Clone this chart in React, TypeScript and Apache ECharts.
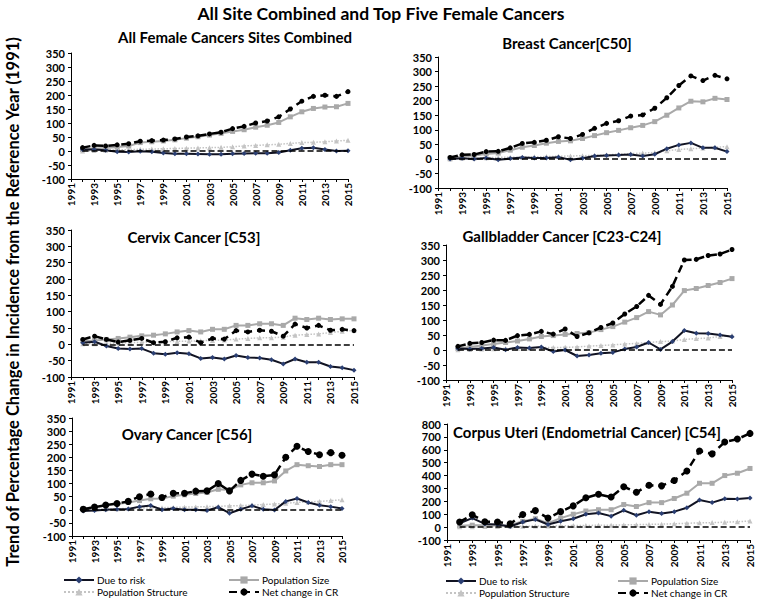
import React, { useEffect, useRef } from 'react';
import * as echarts from 'echarts';

const years = [
  '1991', '1992', '1993', '1994', '1995', '1996', '1997', '1998', '1999', '2000',
  '2001', '2002', '2003', '2004', '2005', '2006', '2007', '2008', '2009', '2010',
  '2011', '2012', '2013', '2014', '2015',
];

// values for 1992..2015 (1991 is the reference year)
const allRisk = [5, 5, 3, -3, -4, -1, -3, -7, -10, -10, -11, -12, -12, -10, -9, -8, -8, -5, 3, 10, 12, 5, 0, 1];
const allSize = [5, 8, 11, 14, 18, 30, 33, 36, 40, 46, 51, 57, 63, 70, 76, 85, 92, 102, 122, 140, 152, 157, 158, 170];
const allStruct = [0, 2, 3, 4, 5, 6, 7, 8, 9, 10, 11, 12, 13, 15, 18, 20, 22, 24, 27, 30, 31, 33, 36, 38];
const allNet = [12, 20, 18, 22, 26, 35, 37, 39, 43, 50, 54, 61, 67, 80, 88, 100, 107, 122, 150, 178, 195, 199, 195, 212];

const breastRisk = [0, 2, 0, 3, -3, 1, 5, 3, 3, 6, -3, 2, 10, 12, 13, 15, 10, 16, 35, 48, 55, 38, 38, 25];
const breastSize = [2, 8, 12, 17, 20, 30, 40, 46, 54, 60, 62, 70, 80, 90, 98, 107, 115, 128, 150, 175, 198, 196, 208, 204];
const breastStruct = [0, 2, 3, 4, 5, 6, 6, 7, 8, 9, 10, 11, 12, 14, 16, 18, 20, 22, 28, 32, 35, 37, 40, 42];
const breastNet = [5, 14, 15, 25, 26, 38, 53, 57, 64, 76, 70, 84, 105, 122, 131, 147, 151, 174, 210, 252, 285, 269, 287, 275];

const cervixRisk = [5, 8, -5, -13, -14, -13, -27, -30, -26, -29, -43, -40, -45, -34, -40, -42, -47, -60, -45, -55, -55, -68, -72, -79];
const cervixSize = [10, 12, 15, 18, 22, 26, 28, 32, 38, 42, 38, 46, 46, 58, 58, 63, 63, 58, 80, 76, 80, 76, 78, 78];
const cervixStruct = [2, 2, 3, 4, 5, 6, 7, 8, 9, 10, 11, 12, 13, 16, 18, 20, 20, 22, 28, 30, 32, 36, 40, 42];
const cervixNet = [15, 25, 15, 7, 12, 18, 5, 8, 20, 22, 5, 18, 16, 42, 38, 43, 40, 25, 62, 50, 58, 43, 46, 42];

const gallRisk = [5, 3, 5, 8, 1, 8, 7, 10, -5, 0, -20, -17, -11, -8, 3, 10, 25, 2, 28, 65, 56, 55, 50, 44];
const gallSize = [5, 10, 15, 20, 25, 30, 37, 45, 48, 52, 55, 58, 68, 78, 93, 108, 128, 117, 150, 198, 205, 215, 225, 238];
const gallStruct = [1, 2, 3, 4, 5, 6, 7, 8, 8, 9, 10, 13, 15, 17, 20, 22, 25, 28, 30, 35, 38, 40, 45, 48];
const gallNet = [12, 22, 25, 33, 32, 48, 52, 62, 53, 70, 45, 57, 75, 90, 120, 145, 182, 152, 212, 300, 302, 315, 320, 335];

const ovaryRisk = [-5, -3, 0, 2, 3, 12, 16, 0, 5, 0, 0, -3, 10, -13, 2, 15, 2, -1, 32, 43, 28, 17, 12, 5];
const ovarySize = [5, 10, 15, 22, 28, 35, 42, 43, 52, 57, 62, 66, 78, 75, 95, 103, 103, 110, 148, 172, 168, 165, 172, 172];
const ovaryStruct = [2, 2, 3, 4, 5, 6, 7, 8, 9, 10, 11, 12, 13, 15, 16, 18, 20, 22, 25, 28, 30, 32, 35, 38];
const ovaryNet = [2, 10, 18, 24, 32, 50, 60, 47, 63, 63, 71, 72, 100, 72, 112, 136, 128, 133, 200, 242, 222, 210, 218, 208];

const uteriRisk = [30, 70, 25, 20, 5, 40, 60, 20, 45, 65, 100, 110, 85, 130, 92, 120, 105, 120, 150, 210, 190, 220, 218, 225];
const uteriSize = [10, 15, 15, 12, 15, 45, 65, 30, 70, 100, 125, 135, 135, 175, 160, 190, 190, 222, 263, 340, 340, 400, 418, 455];
const uteriStruct = [2, 3, 4, 5, 6, 7, 8, 9, 10, 12, 13, 14, 15, 17, 19, 21, 23, 26, 30, 33, 35, 38, 42, 47];
const uteriNet = [40, 95, 42, 40, 25, 98, 128, 70, 120, 165, 228, 255, 233, 313, 270, 325, 320, 362, 435, 590, 568, 660, 683, 727];

const seriesNames = ['Due to risk', 'Population Size', 'Population Structure', 'Net change in CR'];

const FONT = 'Lato, "Open Sans", sans-serif';

const panels = [
  { title: 'All Female Cancers Sites Combined', tx: 235, ty: 37, grid: { left: 71, top: 53, width: 277, height: 126 }, max: 350, interval: 50, dot: 5, data: [allRisk, allSize, allStruct, allNet] },
  { title: 'Breast Cancer[C50]', tx: 567, ty: 43, grid: { left: 438, top: 57, width: 289, height: 131 }, max: 350, interval: 50, dot: 5, data: [breastRisk, breastSize, breastStruct, breastNet] },
  { title: 'Cervix Cancer [C53]', tx: 194, ty: 237, grid: { left: 71, top: 230, width: 283, height: 147 }, max: 350, interval: 50, dot: 5, data: [cervixRisk, cervixSize, cervixStruct, cervixNet] },
  { title: 'Gallbladder Cancer [C23-C24]', tx: 562, ty: 236, grid: { left: 446, top: 245, width: 286, height: 135 }, max: 350, interval: 50, dot: 5, data: [gallRisk, gallSize, gallStruct, gallNet] },
  { title: 'Ovary Cancer [C56]', tx: 187, ty: 434, grid: { left: 72, top: 418, width: 270, height: 118 }, max: 350, interval: 50, dot: 7, data: [ovaryRisk, ovarySize, ovaryStruct, ovaryNet] },
  { title: 'Corpus Uteri (Endometrial Cancer) [C54]', tx: 587, ty: 432, grid: { left: 447, top: 424, width: 303, height: 116 }, max: 800, interval: 100, dot: 7, data: [uteriRisk, uteriSize, uteriStruct, uteriNet] },
];

const legendSpots = [
  { x: 63, y: 575 }, { x: 228, y: 575 }, { x: 63, y: 587 }, { x: 228, y: 587 },
  { x: 445, y: 576 }, { x: 617, y: 576 }, { x: 445, y: 588 }, { x: 617, y: 588 },
];

const App: React.FC = () => {
  const ref = useRef<HTMLDivElement>(null);

  useEffect(() => {
    if (!ref.current) return;
    const chart = echarts.init(ref.current, undefined, { renderer: 'svg' });

    const series: any[] = [];
    panels.forEach((p, i) => {
      const pts = (arr: number[]) => arr.map((v, k) => [years[k + 1], v]);
      series.push({
        name: seriesNames[0], type: 'line', xAxisIndex: i, yAxisIndex: i,
        data: pts(p.data[0]), symbol: 'diamond', symbolSize: 5,
        lineStyle: { color: '#111322', width: 2 },
        itemStyle: { color: '#2b3f73' },
        markLine: {
          silent: true, symbol: 'none', label: { show: false },
          lineStyle: { type: 'dashed', color: '#000', width: 1.5 },
          data: [[{ coord: ['1992', 0] }, { coord: ['2015', 0] }]],
        },
        z: 3,
      });
      series.push({
        name: seriesNames[1], type: 'line', xAxisIndex: i, yAxisIndex: i,
        data: pts(p.data[1]), symbol: 'rect', symbolSize: 5,
        lineStyle: { color: '#a9a9a9', width: 2 },
        itemStyle: { color: '#a9a9a9' },
        z: 2,
      });
      series.push({
        name: seriesNames[2], type: 'line', xAxisIndex: i, yAxisIndex: i,
        data: pts(p.data[2]), symbol: 'triangle', symbolSize: 5,
        lineStyle: { color: '#c4c4c4', width: 1.5, type: 'dotted' },
        itemStyle: { color: '#c4c4c4' },
        z: 2,
      });
      series.push({
        name: seriesNames[3], type: 'line', xAxisIndex: i, yAxisIndex: i,
        data: pts(p.data[3]), symbol: 'circle', symbolSize: p.dot,
        lineStyle: { color: '#000', width: 2.5, type: [8, 5] },
        itemStyle: { color: '#000' },
        z: 4,
      });
    });

    const legends = legendSpots.map((s, k) => ({
      data: [seriesNames[k % 4]],
      left: s.x, top: s.y, padding: 0,
      itemWidth: 30, itemHeight: 9, itemGap: 4,
      selectedMode: false,
      textStyle: { fontSize: 10, fontFamily: FONT, color: '#000', padding: [0, 0, 0, -2] },
    }));

    const baseGraphic: any[] = [
      {
        type: 'text', x: 381, y: 13,
        style: { text: 'All Site Combined and Top Five Female Cancers', font: `bold 17.5px ${FONT}`, fill: '#000', align: 'center', verticalAlign: 'middle' },
      },
      {
        type: 'text', x: 13, y: 302, rotation: Math.PI / 2,
        style: { text: 'Trend of Percentage Change in Incidence from the Reference Year (1991)', font: `bold 16.5px ${FONT}`, fill: '#000', align: 'center', verticalAlign: 'middle' },
      },
      ...panels.map((p) => ({
        type: 'text', x: p.tx, y: p.ty, z: 10,
        style: { text: p.title, font: `bold 15px ${FONT}`, fill: '#000', align: 'center', verticalAlign: 'middle' },
      })),
    ];

    chart.setOption({
      animation: false,
      backgroundColor: '#fff',
      grid: panels.map((p) => ({ ...p.grid, containLabel: false })),
      xAxis: panels.map((p, i) => ({
        type: 'category', gridIndex: i, data: years, boundaryGap: false,
        axisLine: { onZero: false, lineStyle: { color: '#000', width: 1 } },
        axisTick: { show: true, interval: 0, length: 3, lineStyle: { color: '#000' } },
        axisLabel: { show: false },
        splitLine: { show: false },
      })),
      yAxis: panels.map((p, i) => ({
        type: 'value', gridIndex: i, min: -100, max: p.max, interval: p.interval,
        axisLine: { show: true, lineStyle: { color: '#000', width: 1 } },
        axisTick: { show: true, length: 3, lineStyle: { color: '#000' } },
        axisLabel: { fontSize: 11, fontWeight: 'bold', color: '#000', fontFamily: FONT, margin: 6 },
        splitLine: { show: false },
      })),
      legend: legends,
      series,
      graphic: baseGraphic,
    });

    // vertical year labels (every second year), placed through each grid's axes
    const yearLabels: any[] = [];
    panels.forEach((p, i) => {
      years.forEach((y, k) => {
        if (k % 2 !== 0) return;
        const pt = chart.convertToPixel({ gridIndex: i }, [k, -100]) as number[];
        yearLabels.push({
          type: 'text', x: pt[0], y: pt[1] + 4, rotation: Math.PI / 2,
          style: { text: y, font: `bold 10px ${FONT}`, fill: '#000', align: 'right', verticalAlign: 'middle' },
        });
      });
    });
    chart.setOption({ graphic: [...baseGraphic, ...yearLabels] });

    return () => {
      chart.dispose();
    };
  }, []);

  return <div ref={ref} style={{ position: 'fixed', left: 0, top: 0, width: 761, height: 603 }} />;
};

export default App;
